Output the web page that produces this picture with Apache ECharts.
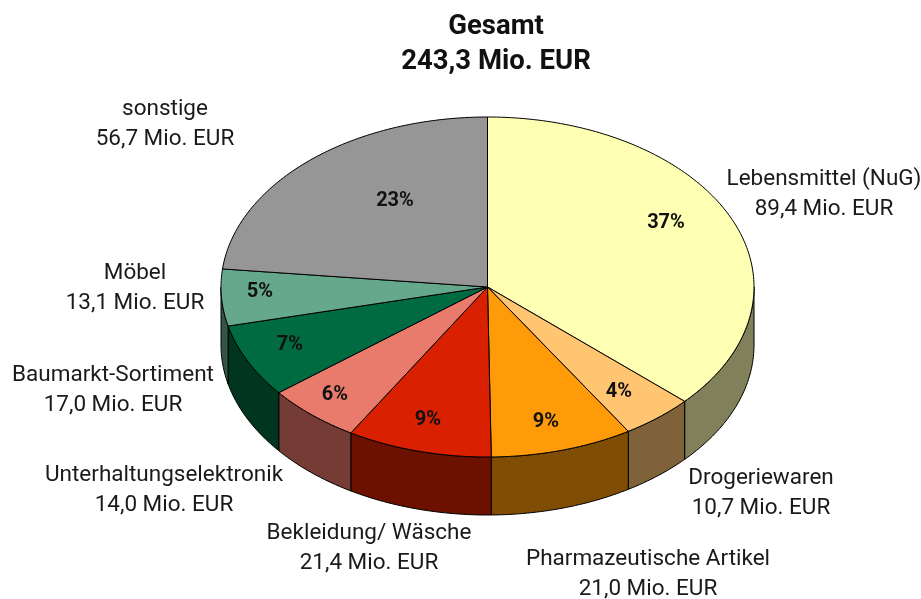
<!DOCTYPE html>
<html>
<head>
<meta charset="utf-8">
<style>
	html, body { margin: 0; padding: 0; background: #fff; }
	#chart { width: 921px; height: 599px; }
</style>
<script src="https://cdn.jsdelivr.net/npm/echarts@6/dist/echarts.min.js"></script>
</head>
<body>
<div id="chart"></div>
<script>
	var categories = ['Lebensmittel (NuG)', 'Drogeriewaren', 'Pharmazeutische Artikel', 'Bekleidung/ Wäsche', 'Unterhaltungselektronik', 'Baumarkt-Sortiment', 'Möbel', 'sonstige'];
	var values = [89.4, 10.7, 21.0, 21.4, 14.0, 17.0, 13.1, 56.7];

	var topColors = ['#FFFFB3', '#FFC571', '#FF9A09', '#D92000', '#E97B6C', '#006B40', '#66A88B', '#969696'];
	var sideColors = ['#80805A', '#80623A', '#804D05', '#6C1000', '#743C35', '#003620', '#335546', '#4B4B4B'];
	// label anchors, hand placed like in the original
	var nameAnchors = [[824, 194], [761, 493], [648, 574], [369, 548], [164, 490], [113, 390], [135, 288], [165, 124]];
	var percentAnchors = [[666, 223], [619, 392], [546, 422], [428, 420], [335, 395], [290, 345], [260, 292], [395, 201]];

	var cx = 487.5, cy = 287, rx = 266.5, ry = 170, depth = 58;
	var FONT = 'Roboto, sans-serif';

	var total = values.reduce(function (a, b) { return a + b; }, 0);
	function fmt(v) { return v.toFixed(1).replace('.', ',') + ' Mio. EUR'; }
	function rim(deg, dy) {
		var t = deg * Math.PI / 180;
		return [cx + rx * Math.sin(t), cy - ry * Math.cos(t) + (dy || 0)];
	}
	function arc(a0, a1, dy) {
		var pts = [], n = Math.max(2, Math.ceil(Math.abs(a1 - a0)));
		for (var i = 0; i <= n; i++) pts.push(rim(a0 + (a1 - a0) * i / n, dy));
		return pts;
	}

	var starts = [], acc = 0;
	values.forEach(function (v) { starts.push(acc / total * 360); acc += v; });

	function renderSlice(params, api) {
		var i = api.value(0);
		var a0 = starts[i], a1 = a0 + values[i] / total * 360;
		var children = [];
		// wall only shows on the front half
		var s0 = Math.max(a0, 90), s1 = Math.min(a1, 270);
		if (s1 > s0) {
			children.push({
				type: 'polygon',
				shape: { points: arc(s0, s1, 0).concat(arc(s1, s0, depth)) },
				style: { fill: sideColors[i], stroke: '#000', lineWidth: 1 }
			});
		}
		children.push({
			type: 'polygon',
			shape: { points: [[cx, cy]].concat(arc(a0, a1, 0)) },
			style: { fill: topColors[i], stroke: '#000', lineWidth: 1 }
		});
		return { type: 'group', children: children };
	}

	function renderText(params, api) {
		var i = api.value(0);
		return {
			type: 'group',
			children: [{
				type: 'text',
				x: nameAnchors[i][0],
				y: nameAnchors[i][1],
				style: {
					text: categories[i] + '\n' + fmt(values[i]),
					fill: '#1a1a1a',
					font: '22.5px ' + FONT,
					lineHeight: 30,
					textAlign: 'center',
					textVerticalAlign: 'middle'
				}
			}, {
				type: 'text',
				x: percentAnchors[i][0],
				y: percentAnchors[i][1],
				style: {
					text: Math.round(values[i] / total * 100) + '%',
					fill: '#111',
					font: 'bold 20px ' + FONT,
					textAlign: 'center',
					textVerticalAlign: 'middle'
				}
			}]
		};
	}

	var rows = categories.map(function (c, i) { return [i]; });
	var myChart = echarts.init(document.getElementById('chart'), null, { renderer: 'canvas' });
	myChart.setOption({
		animation: false,
		backgroundColor: '#fff',
		title: {
			text: 'Gesamt\n' + fmt(total),
			left: 491,
			top: 5,
			textAlign: 'center',
			textStyle: { color: '#111', fontFamily: FONT, fontWeight: 'bold', fontSize: 27.5, lineHeight: 35 }
		},
		series: [
			{ type: 'custom', coordinateSystem: 'none', renderItem: renderSlice, data: rows, silent: true, z: 1 },
			{ type: 'custom', coordinateSystem: 'none', renderItem: renderText, data: rows, silent: true, z: 2 }
		]
	});
</script>
</body>
</html>
